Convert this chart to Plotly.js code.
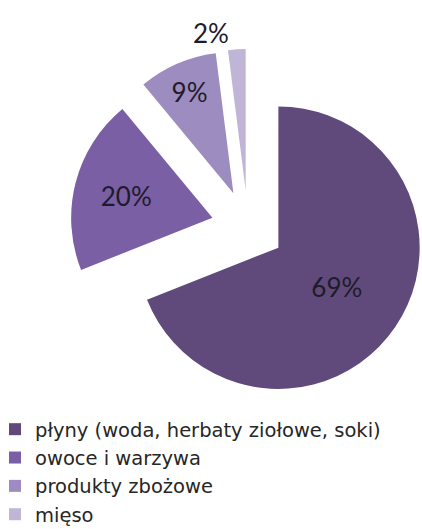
<!DOCTYPE html>
<html>
<head>
<meta charset="utf-8">
<script src="https://cdn.plot.ly/plotly-3.0.1.min.js"></script>
<style>
  html, body { margin: 0; padding: 0; background: #ffffff; overflow: hidden; width: 422px; height: 529px; }
  #chart { position: absolute; left: -5px; top: 0; width: 432px; height: 534px; }
</style>
</head>
<body>
<div id="chart"></div>
<script>
const categories = ["płyny (woda, herbaty ziołowe, soki)", "owoce i warzywa", "produkty zbożowe", "mięso"];
const values = [69, 20, 9, 2];
const sliceColors = ["#604a7b", "#7b5fa5", "#9d8cbf", "#c0b5d6"];
const pulls = [0.26, 0.26, 0.26, 0.26];
const textPositions = ["inside", "inside", "inside", "outside"];

const trace = {
  type: "pie",
  labels: categories,
  values: values,
  sort: false,
  direction: "clockwise",
  rotation: 0,
  pull: pulls,
  marker: { colors: sliceColors, line: { width: 0 } },
  textinfo: "percent",
  texttemplate: "%{percent:.0%}",
  textposition: textPositions,
  insidetextorientation: "horizontal",
  textfont: { family: "Lato, 'Open Sans', sans-serif", size: 26, color: "#1e1b2b" },
  outsidetextfont: { family: "Lato, 'Open Sans', sans-serif", size: 26, color: "#1e1b2b" },
  hoverinfo: "label+percent",
  domain: { x: [0.1736, 0.9977], y: [0.2210, 0.9288] },
  automargin: false,
  showlegend: true
};

const layout = {
  width: 432,
  height: 534,
  margin: { l: 0, r: 0, t: 0, b: 0 },
  paper_bgcolor: "#ffffff",
  plot_bgcolor: "#ffffff",
  showlegend: true,
  legend: {
    x: 0, xanchor: "left",
    y: 0, yanchor: "bottom",
    font: { family: "'DejaVu Sans', Verdana, sans-serif", size: 19.5, color: "#262626" },
    bgcolor: "rgba(0,0,0,0)",
    borderwidth: 0,
    traceorder: "normal"
  }
};

Plotly.newPlot("chart", [trace], layout, { displayModeBar: false, staticPlot: true });
</script>
</body>
</html>
